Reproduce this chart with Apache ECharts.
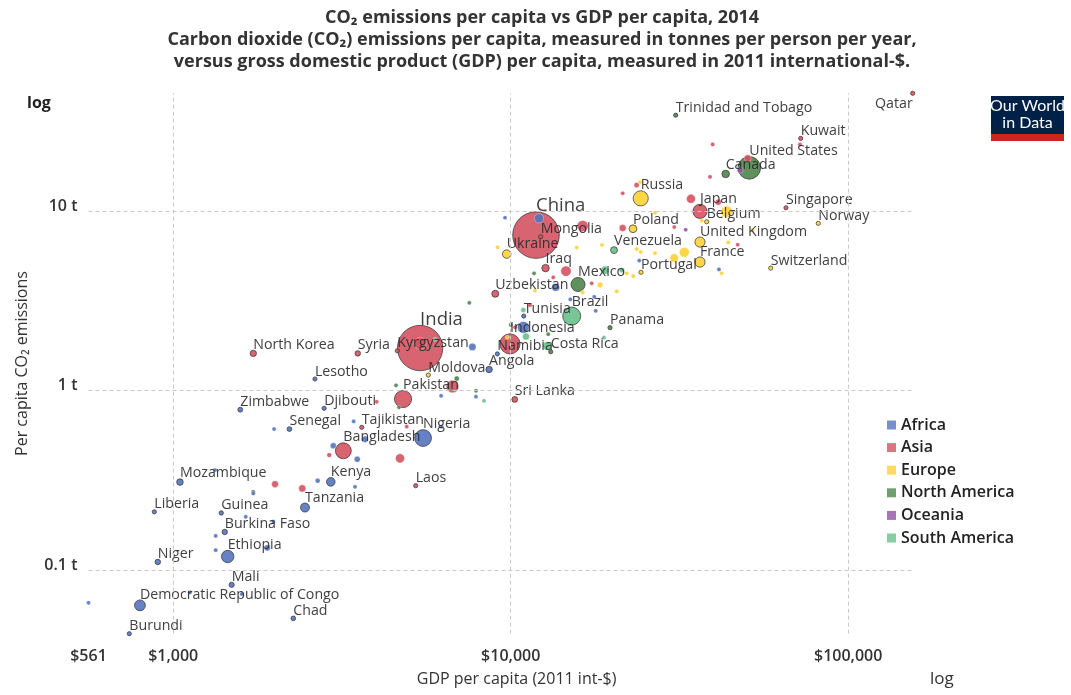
<!DOCTYPE html>
<html>
<head>
<meta charset="utf-8">
<title>CO₂ emissions per capita vs GDP per capita, 2014</title>
<script src="https://cdn.jsdelivr.net/npm/echarts@6/dist/echarts.min.js"></script>
<style>
  html, body { margin: 0; padding: 0; background: #fff; }
  #chart { width: 1071px; height: 695px; }
</style>
</head>
<body>
<div id="chart"></div>
<script>
// Rows: [country, GDP per capita (2011 int-$), CO2 per capita (t), population (millions)]
const africa = [
  ['South Africa', 12130, 9.11, 54],
  ['Libya', 9620, 9.18, 6.2],
  ['Equatorial Guinea', 41410, 4.73, 1.1],
  ['Gabon', 24040, 5.30, 1.9],
  ['Algeria', 13590, 3.76, 39],
  ['Mauritius', 15020, 3.22, 1.3],
  ['Botswana', 17690, 3.33, 2.2],
  ['Seychelles', 17860, 2.78, 0.1],
  ['Tunisia', 10930, 2.60, 11],
  ['Egypt', 10900, 2.25, 89],
  ['Namibia', 9130, 1.60, 2.4],
  ['Angola', 8630, 1.31, 26],
  ['Morocco', 7700, 1.75, 34],
  ['Lesotho', 2630, 1.16, 2.1],
  ['Eswatini', 6220, 0.935, 1.3],
  ['Cape Verde', 7890, 0.924, 0.5],
  ['Zimbabwe', 1580, 0.782, 15],
  ['Djibouti', 2800, 0.796, 0.9],
  ['Senegal', 2210, 0.610, 14.5],
  ['Benin', 1990, 0.610, 10],
  ['Sao Tome and Principe', 3425, 0.673, 0.2],
  ['Congo', 6245, 0.629, 4.5],
  ['Nigeria', 5500, 0.544, 177],
  ['Cameroon', 2980, 0.493, 23],
  ['Ghana', 3700, 0.535, 27],
  ["Cote d'Ivoire", 3510, 0.414, 22],
  ['Kenya', 2930, 0.310, 46],
  ['Zambia', 2680, 0.314, 15.6],
  ['Sudan', 3456, 0.291, 8],
  ['Mozambique', 1047, 0.309, 27],
  ['Guinea-Bissau', 1330, 0.361, 1.7],
  ['Gambia', 1727, 0.267, 1.9],
  ['Tanzania', 2457, 0.223, 51],
  ['Liberia', 879, 0.211, 4.4],
  ['Guinea', 1388, 0.208, 12],
  ['Togo', 1640, 0.198, 7],
  ['South Sudan', 1980, 0.186, 2],
  ['Burkina Faso', 1421, 0.163, 18],
  ['Sierra Leone', 1336, 0.155, 1.5],
  ['Ethiopia', 1450, 0.119, 97],
  ['Rwanda', 1336, 0.129, 11],
  ['Madagascar', 1900, 0.133, 24],
  ['Niger', 900, 0.111, 19],
  ['Mali', 1490, 0.0828, 17],
  ['Malawi', 1121, 0.0751, 2],
  ['Comoros', 1596, 0.0735, 0.8],
  ['Democratic Republic of Congo', 797, 0.0636, 74],
  ['Central African Republic', 561, 0.0657, 4.5],
  ['Chad', 2269, 0.0538, 13.6],
  ['Burundi', 741, 0.0442, 10]
];

const asia = [
  ['Qatar', 155300, 45.3, 2.2],
  ['Kuwait', 72330, 25.4, 3.8],
  ['United Arab Emirates', 71970, 23.5, 9],
  ['Bahrain', 39670, 23.5, 1.3],
  ['Oman', 38950, 15.5, 4],
  ['Saudi Arabia', 50370, 19.7, 31],
  ['Kazakhstan', 23620, 13.96, 17.3],
  ['Turkmenistan', 21470, 12.55, 5.5],
  ['Taiwan', 41210, 11.2, 23.4],
  ['South Korea', 34210, 11.7, 50],
  ['Japan', 36380, 9.96, 127],
  ['Israel', 30520, 8.14, 8.2],
  ['Malaysia', 21470, 8.04, 30],
  ['Iran', 16340, 8.25, 78],
  ['China', 11885, 7.35, 1364],
  ['Mongolia', 12270, 7.19, 2.9],
  ['Hong Kong', 47050, 6.49, 7.2],
  ['Singapore', 65420, 10.43, 5.5],
  ['Lebanon', 17380, 3.96, 5.6],
  ['Azerbaijan', 13370, 4.27, 9.5],
  ['Thailand', 14580, 4.63, 68],
  ['Iraq', 12680, 4.81, 35],
  ['Uzbekistan', 9000, 3.46, 31],
  ['Jordan', 11410, 2.99, 8],
  ['Bhutan', 10300, 2.25, 0.8],
  ['Indonesia', 9950, 1.82, 255],
  ['Vietnam', 5390, 1.83, 91],
  ['India', 5390, 1.725, 1293],
  ['Kyrgyzstan', 4613, 1.666, 5.8],
  ['Syria', 3522, 1.611, 19],
  ['North Korea', 1727, 1.611, 25],
  ['Philippines', 6723, 1.053, 100],
  ['Pakistan', 4797, 0.897, 185],
  ['Sri Lanka', 10280, 0.893, 21],
  ['Palestine', 4009, 0.866, 4.4],
  ['Tajikistan', 3619, 0.624, 8.3],
  ['Timor-Leste', 4919, 0.629, 1.2],
  ['Bangladesh', 3192, 0.462, 159],
  ['Cambodia', 2900, 0.437, 15],
  ['Myanmar', 4699, 0.419, 52],
  ['Laos', 5230, 0.295, 6.7],
  ['Nepal', 2003, 0.301, 28],
  ['Afghanistan', 2412, 0.285, 32]
];

const europe = [
  ['Russia', 24280, 11.77, 144],
  ['Estonia', 24160, 14.5, 1.3],
  ['Germany', 43650, 9.91, 81],
  ['Belgium', 38080, 8.72, 11.2],
  ['Finland', 36810, 8.83, 5.5],
  ['Czech Republic', 26770, 9.78, 10.5],
  ['Poland', 23030, 7.97, 38],
  ['Ukraine', 9730, 5.76, 45],
  ['Bosnia and Herzegovina', 9150, 6.28, 3.5],
  ['Bulgaria', 15690, 6.26, 7.2],
  ['Belarus', 18650, 6.47, 9.5],
  ['Slovakia', 23620, 6.14, 5.4],
  ['Greece', 24280, 5.91, 11],
  ['Slovenia', 26770, 5.83, 2.1],
  ['Italy', 32690, 5.89, 60],
  ['Spain', 30520, 5.47, 46],
  ['Austria', 44130, 6.69, 8.5],
  ['Ireland', 51980, 7.84, 4.6],
  ['United Kingdom', 36380, 6.72, 64.6],
  ['France', 36380, 5.20, 66],
  ['Switzerland', 58940, 4.81, 8.2],
  ['Norway', 81540, 8.54, 5.1],
  ['Sweden', 42180, 4.50, 9.7],
  ['Portugal', 24330, 4.56, 10.4],
  ['Hungary', 22060, 4.50, 9.9],
  ['Lithuania', 23080, 4.34, 2.9],
  ['Romania', 18390, 3.88, 20],
  ['Serbia', 16340, 3.52, 7.1],
  ['Latvia', 20610, 3.57, 2.0],
  ['North Macedonia', 11800, 3.60, 2.1],
  ['Albania', 9770, 1.98, 2.9],
  ['Moldova', 5700, 1.22, 3.5]
];

const northAmerica = [
  ['Trinidad and Tobago', 30830, 34.2, 1.35],
  ['United States', 50930, 17.4, 319],
  ['Canada', 43350, 16.1, 35.5],
  ['Mexico', 15830, 3.90, 125],
  ['Grenada', 11730, 4.50, 0.1],
  ['Jamaica', 7540, 3.08, 2.8],
  ['Panama', 19690, 2.24, 3.9],
  ['Dominica', 10000, 2.32, 0.07],
  ['Dominican Republic', 12920, 2.06, 10],
  ['Costa Rica', 13140, 1.645, 4.8],
  ['Guatemala', 6920, 1.166, 16],
  ['Honduras', 4573, 1.069, 8],
  ['Nicaragua', 4667, 0.806, 6],
  ['Belize', 7893, 0.997, 0.35],
  ['Haiti', 1727, 0.273, 5]
];

const oceania = [
  ['Australia', 47890, 16.9, 23.5],
  ['New Zealand', 33000, 7.87, 4.5]
];

const southAmerica = [
  ['Venezuela', 20240, 6.06, 30],
  ['Argentina', 19030, 4.69, 43],
  ['Chile', 21330, 4.69, 18],
  ['Ecuador', 10900, 2.81, 16],
  ['Brazil', 15160, 2.60, 204],
  ['Peru', 11100, 2.00, 31],
  ['Colombia', 12810, 1.77, 47],
  ['Uruguay', 18900, 1.97, 3.4],
  ['Bolivia', 5966, 1.93, 10.6],
  ['Paraguay', 8335, 0.877, 6.6]
];

// Countries that carry a name label next to their bubble
const labelled = [
  'Qatar', 'Trinidad and Tobago', 'Kuwait', 'United States', 'Canada', 'Russia',
  'Japan', 'Belgium', 'Singapore', 'Norway', 'Poland', 'United Kingdom', 'China',
  'Mongolia', 'Ukraine', 'Venezuela', 'France', 'Iraq', 'Portugal', 'Switzerland',
  'Mexico', 'Uzbekistan', 'Brazil', 'Tunisia', 'Panama', 'India', 'Indonesia',
  'Kyrgyzstan', 'Costa Rica', 'Namibia', 'Angola', 'North Korea', 'Syria', 'Moldova',
  'Lesotho', 'Pakistan', 'Sri Lanka', 'Zimbabwe', 'Djibouti', 'Senegal', 'Tajikistan',
  'Nigeria', 'Bangladesh', 'Mozambique', 'Kenya', 'Laos', 'Tanzania', 'Liberia',
  'Guinea', 'Burkina Faso', 'Ethiopia', 'Niger', 'Mali',
  'Democratic Republic of Congo', 'Chad', 'Burundi'
];
const bigLabels = ['China', 'India'];

const continents = ['Africa', 'Asia', 'Europe', 'North America', 'Oceania', 'South America'];
const continentRows = [africa, asia, europe, northAmerica, oceania, southAmerica];
const continentColors = ['#5574be', '#d45262', '#fdd235', '#4f844a', '#8f54a6', '#69c08a'];

// Grid lines sit on whole decades of both axes
const xDecades = [1000, 10000, 100000];
const yDecades = [0.1, 1, 10];

const points = [];
continentRows.forEach((rows, ci) => {
  rows.forEach(r => points.push({ continent: ci, name: r[0], gdp: r[1], co2: r[2], pop: r[3] }));
});
// Largest bubbles first so smaller ones stay visible on top
points.sort((a, b) => b.pop - a.pop);

const allGdp = points.map(p => p.gdp);
const allCo2 = points.map(p => p.co2);
const minGdp = Math.min(...allGdp);
const maxPop = Math.max(...points.map(p => p.pop));

function bubbleSize(pop) {
  return 2 * Math.max(2.1, 23.3 * Math.sqrt(pop / maxPop));
}

function isDecade(v) {
  const l = Math.log10(v);
  return Math.abs(l - Math.round(l)) < 1e-6;
}

const seriesData = points.map(p => {
  const isLabelled = labelled.indexOf(p.name) >= 0;
  const item = {
    name: p.name,
    value: [p.gdp, p.co2, p.pop],
    itemStyle: {
      color: continentColors[p.continent],
      opacity: 0.9,
      borderColor: isLabelled ? '#333' : 'rgba(255,255,255,0.7)',
      borderWidth: isLabelled ? 0.8 : 0.5
    }
  };
  if (isLabelled) {
    const big = bigLabels.indexOf(p.name) >= 0;
    item.label = {
      show: true,
      formatter: '{b}',
      position: 'top',
      align: 'left',
      distance: big ? -4 : -2,
      fontSize: big ? 18.5 : 14.2,
      color: '#2a2a2a',
      fontFamily: 'Open Sans'
    };
    if (p.name === 'Qatar') {
      item.label.position = 'bottom';
      item.label.align = 'right';
      item.label.distance = 1;
    }
  }
  return item;
});

const chart = echarts.init(document.getElementById('chart'), null, { renderer: 'canvas' });

const legendSeries = continents.map((c, i) => ({
  name: c,
  type: 'scatter',
  data: [],
  itemStyle: { color: continentColors[i] }
}));

chart.setOption({
  animation: false,
  backgroundColor: '#fff',
  textStyle: { fontFamily: 'Open Sans' },
  title: {
    text: 'CO₂ emissions per capita vs GDP per capita, 2014\n' +
          'Carbon dioxide (CO₂) emissions per capita, measured in tonnes per person per year,\n' +
          'versus gross domestic product (GDP) per capita, measured in 2011 international-$.',
    left: 537,
    top: 2,
    textAlign: 'center',
    textStyle: {
      fontFamily: 'Open Sans',
      fontWeight: 'bold',
      fontSize: 18,
      lineHeight: 22,
      color: '#333'
    }
  },
  legend: {
    data: continents,
    orient: 'vertical',
    left: 882,
    top: 411,
    icon: 'rect',
    itemWidth: 9,
    itemHeight: 9,
    itemGap: 4.6,
    selectedMode: false,
    textStyle: { fontFamily: 'Open Sans', fontSize: 16, fontWeight: 600, color: '#222', lineHeight: 18 }
  },
  grid: { left: 88.5, right: 158.3, top: 93.3, bottom: 61.3 },
  xAxis: {
    type: 'log',
    logBase: 10,
    min: minGdp,
    max: Math.max(...allGdp),
    name: 'GDP per capita (2011 int-$)',
    nameLocation: 'middle',
    nameGap: 38,
    nameTextStyle: { fontSize: 16, color: '#333', padding: [0, 0, 0, 32] },
    axisLine: { show: false },
    axisTick: { show: false },
    splitLine: { show: false },
    axisLabel: {
      margin: 15,
      fontSize: 16,
      fontWeight: 600,
      color: '#333',
      showMaxLabel: false,
      formatter: v => (isDecade(v) || Math.abs(v - minGdp) < 1)
        ? '$' + Math.round(v).toLocaleString('en-US') : ''
    }
  },
  yAxis: {
    type: 'log',
    logBase: 10,
    min: Math.min(...allCo2),
    max: Math.max(...allCo2),
    name: 'Per capita CO₂ emissions',
    nameLocation: 'middle',
    nameGap: 58,
    nameTextStyle: { fontSize: 16, color: '#333' },
    axisLine: { show: false },
    axisTick: { show: false },
    splitLine: { show: false },
    axisLabel: {
      margin: 11,
      fontSize: 16,
      fontWeight: 600,
      color: '#333',
      verticalAlign: 'bottom',
      lineHeight: 10,
      formatter: v => isDecade(v) ? (+v.toPrecision(6)) + ' t' : ''
    }
  },
  series: [
    {
      name: 'gridlines',
      type: 'scatter',
      data: [],
      z: 1,
      silent: true,
      markLine: {
        silent: true,
        symbol: ['none', 'none'],
        label: { show: false },
        lineStyle: { color: '#c9c9c9', type: [4, 3], width: 1 },
        data: xDecades.map(v => ({ xAxis: v })).concat(yDecades.map(v => ({ yAxis: v })))
      }
    },
    {
      name: 'Countries',
      type: 'scatter',
      z: 3,
      clip: false,
      symbolSize: val => bubbleSize(val[2]),
      data: seriesData,
      emphasis: { disabled: true }
    }
  ].concat(legendSeries),
  graphic: [
    { type: 'text', left: 27, top: 95, style: { text: 'log', fontFamily: 'Open Sans', fontSize: 16, fontWeight: 'bold', fill: '#222' } },
    { type: 'text', left: 930, top: 671, style: { text: 'log', fontFamily: 'Open Sans', fontSize: 17, fill: '#333' } },
    { type: 'rect', left: 991, top: 96, shape: { width: 73, height: 38 }, style: { fill: '#002147' } },
    { type: 'rect', left: 991, top: 134, shape: { width: 73, height: 7 }, style: { fill: '#ce261e' } },
    { type: 'text', x: 1027.5, y: 106, style: { text: 'Our World', fontFamily: 'Lato', fontSize: 16, fill: '#fff', align: 'center', verticalAlign: 'middle' } },
    { type: 'text', x: 1027.5, y: 123, style: { text: 'in Data', fontFamily: 'Lato', fontSize: 16, fill: '#fff', align: 'center', verticalAlign: 'middle' } }
  ]
});
</script>
</body>
</html>
